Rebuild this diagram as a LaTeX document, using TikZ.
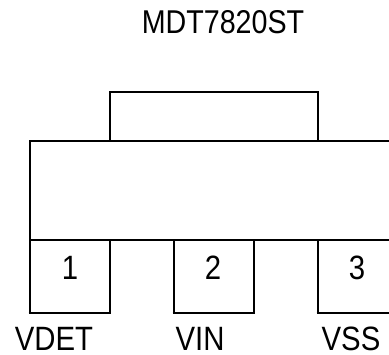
\documentclass[tikz,border=0pt]{standalone}
\usepackage{fontspec}
\setmainfont{Liberation Sans}
\tikzset{
  outline/.style={draw=black,line width=1.7pt,line cap=butt,line join=miter},
  lbl/.style={font=\fontsize{22}{24}\selectfont,inner sep=0pt,anchor=base,text=black,yscale=1.15,transform shape}
}
\begin{document}
\begin{tikzpicture}[x=0.75pt,y=-0.75pt]
\useasboundingbox (0,0) rectangle (389,354);
\fill[white] (0,0) rectangle (389,354);
% body and tab
\draw[outline] (389,141) -- (30,141) -- (30,240) -- (389,240);
\draw[outline] (110,141) -- (110,92) -- (318,92) -- (318,141);
% pins
\draw[outline] (30,240) -- (30,313);
\draw[outline] (28.5,313) -- (110.7,313) (110,313) -- (110,240);
\draw[outline] (174,240) -- (174,313);
\draw[outline] (172.5,313) -- (254.7,313) (254,313) -- (254,240);
\draw[outline] (318,240) -- (318,313);
\draw[outline] (316.5,313) -- (389,313);
% labels
\node[lbl,font=\fontsize{21.5}{24}\selectfont] (title) at (223,33) {MDT7820ST};
\node[lbl] (n1) at (70,279.5) {1};
\node[lbl] (n2) at (213,279.5) {2};
\node[lbl] (n3) at (357,279.5) {3};
\node[lbl] (vdet) at (54,350) {VDET};
\node[lbl] (vin) at (200,350) {VIN};
\node[lbl] (vss) at (351,350) {VSS};
\end{tikzpicture}
\end{document}
